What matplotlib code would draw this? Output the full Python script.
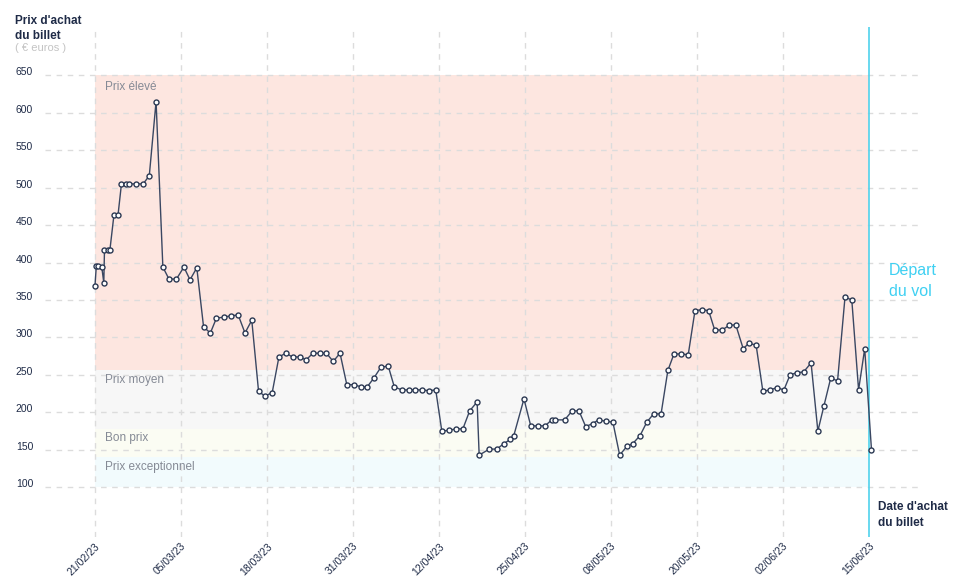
import numpy as np
import matplotlib.pyplot as plt
import matplotlib.transforms as mtransforms

plt.rcParams['font.family'] = ['Liberation Sans', 'DejaVu Sans']

# jours depuis le 21/02/23 (date d'achat) et prix du billet [€]
jours = [0.0, 0.2, 0.4, 1.0, 1.3, 1.4, 1.9, 2.2, 2.8, 3.4,
         3.9, 4.5, 5.0, 6.0, 7.1, 8.0, 9.0, 10.0, 10.9, 12.0,
         13.1, 14.0, 15.0, 16.0, 17.0, 17.9, 19.0, 20.0, 21.1, 22.1,
         23.1, 24.1, 25.0, 26.1, 27.1, 28.1, 29.1, 30.2, 31.1, 32.1,
         33.1, 34.1, 35.1, 36.1, 37.1, 38.2, 39.2, 40.1, 41.1, 42.1,
         43.2, 44.1, 45.2, 46.2, 47.1, 48.2, 49.2, 50.2, 51.1, 52.1,
         53.2, 54.2, 55.2, 56.3, 56.6, 58.1, 59.2, 60.2, 61.2, 61.7,
         63.2, 64.2, 65.3, 66.3, 67.3, 67.8, 69.2, 70.3, 71.3, 72.3,
         73.3, 74.2, 75.3, 76.3, 77.3, 78.4, 79.2, 80.3, 81.3, 82.3,
         83.4, 84.4, 85.3, 86.3, 87.4, 88.4, 89.4, 90.4, 91.3, 92.4,
         93.4, 94.4, 95.5, 96.3, 97.4, 98.4, 99.4, 100.5, 101.5, 102.4,
         103.4, 104.4, 105.5, 106.5, 107.4, 108.4, 109.4, 110.5, 111.5, 112.5,
         113.4, 114.4]
prix = [369, 396, 396, 394, 373, 417, 417, 417, 464, 464,
        505, 505, 505, 505, 505, 516, 615, 394, 378, 378,
        394, 377, 393, 314, 306, 326, 327, 329, 330, 306,
        323, 228, 222, 226, 274, 279, 274, 274, 270, 279,
        279, 279, 268, 279, 237, 237, 234, 234, 246, 260,
        262, 234, 230, 230, 230, 230, 229, 230, 175, 176,
        178, 178, 202, 214, 143, 151, 151, 158, 164, 169,
        218, 182, 182, 182, 190, 190, 190, 202, 202, 181,
        185, 190, 188, 187, 143, 155, 158, 169, 187, 198,
        198, 256, 278, 278, 277, 336, 337, 336, 310, 310,
        316, 317, 285, 292, 290, 228, 230, 233, 230, 250,
        253, 254, 266, 175, 209, 246, 242, 354, 350, 230,
        285, 150]

# zones de prix
zones = ['Prix exceptionnel', 'Bon prix', 'Prix moyen', 'Prix élevé']
bornes = [100, 140, 178, 256, 650]
couleurs_zones = ['#f2fbfd', '#fbfcf3', '#f7f7f7', '#fde6e0']
pos_labels = [127, 166, 243, 634]

# axe des dates
ticks_jours = np.linspace(0, 114, 10)
ticks_labels = ['21/02/23', '05/03/23', '18/03/23', '31/03/23', '12/04/23',
                '25/04/23', '08/05/23', '20/05/23', '02/06/23', '15/06/23']
y_ticks = np.arange(100, 651, 50)
depart = 114

navy = '#1f2b47'
grille = '#dcdcdc'

fig = plt.figure(figsize=(9.58, 5.85), dpi=100)
ax = fig.add_axes([0.047, 0.082, 0.913, 0.872])

# bandes de fond
for i in range(len(zones)):
    ax.fill_between([0, depart], bornes[i], bornes[i + 1], color=couleurs_zones[i], lw=0, zorder=0)
    ax.text(1.5, pos_labels[i], zones[i], color='#858a95', fontsize=8.5, va='center', ha='left', zorder=3)

# grilles
for yt in y_ticks:
    ax.axhline(yt, color=grille, lw=1, ls=(0, (4, 4)), zorder=1)
for xt in ticks_jours[:-1]:
    ax.axvline(xt, color=grille, lw=1, ls=(0, (4, 4)), zorder=1)
ax.axvline(depart, color='#4fd2ec', lw=1.2, zorder=2)

# courbe des prix
ax.plot(jours, prix, '-', color='#3a4762', lw=1, zorder=4)
ax.plot(jours, prix, 'o', ms=3.6, mfc='white', mec='#2b3852', mew=1, zorder=5)

ax.set_xlim(-7.36, 121.5)
ax.set_ylim(33.6, 714.6)
ax.set_xticks(ticks_jours)
ax.set_xticklabels(ticks_labels, rotation=45, ha='right', va='top', rotation_mode='anchor',
                   fontsize=7.5, color=navy)
ax.set_yticks(y_ticks)
ax.set_yticklabels([str(v) for v in y_ticks], fontsize=7.5, color=navy, ha='left')
ax.tick_params(axis='both', length=0)
ax.tick_params(axis='y', pad=21)
ax.tick_params(axis='x', pad=3)
decal = mtransforms.ScaledTranslation(0, 4 / 100, fig.dpi_scale_trans)
for lab in ax.get_yticklabels():
    lab.set_transform(lab.get_transform() + decal)
for s in ax.spines.values():
    s.set_visible(False)

# textes
fig.text(15 / 958, 1 - 15 / 585, "Prix d'achat\ndu billet", fontsize=8.5, fontweight='bold',
         color=navy, va='top', ha='left', linespacing=1.3)
fig.text(15 / 958, 1 - 48 / 585, "( € euros )", fontsize=8, color='#c4c4c4', va='center', ha='left')
fig.text(878 / 958, 1 - 501 / 585, "Date d'achat\ndu billet", fontsize=8.5, fontweight='bold',
         color=navy, va='top', ha='left', linespacing=1.5)
fig.text(889 / 958, 1 - 263 / 585, "Départ\ndu vol", fontsize=11.5, color='#3fd0f2',
         va='top', ha='left', linespacing=1.5)

fig.savefig('out.png', dpi=100)
